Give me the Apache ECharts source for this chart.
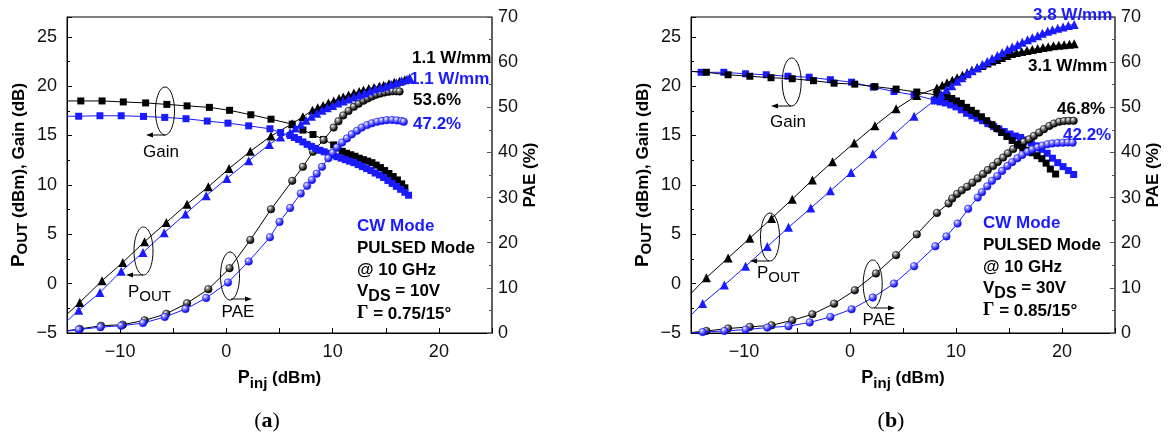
<!DOCTYPE html>
<html><head><meta charset="utf-8">
<script src="https://cdn.jsdelivr.net/npm/echarts@6/dist/echarts.min.js"></script>
<style>html,body{margin:0;padding:0;background:#fff}#c{width:1171px;height:445px}</style>
</head><body><div id="c"></div>
<script>
// ---------- axis ranges / ticks ----------
const xRange = [-15, 25];
const xLabelTicks = [-10, 0, 10, 20];
const leftRange = [-5, 27];
const rightRange = [0, 70];

// ---------- panel (a) : VDS = 10 V ----------
const gainPulsedA = [[-15,18.5],[-13.7,18.5],[-11.7,18.5],[-9.7,18.4],[-7.6,18.3],[-5.6,18.15],[-3.7,18.0],[-1.6,17.85],[0.3,17.55],[2.3,17.1],[4.2,16.65],[6.2,16.15],[7.2,15.55],[8.15,15.1],[9.15,14.6],[10.1,14.05],[10.5,13.75],[10.9,13.4],[11.3,13.2],[11.7,13.05],[12.1,12.9],[12.5,12.7],[12.9,12.55],[13.3,12.4],[13.7,12.25],[14.1,12.0],[14.5,11.75],[14.9,11.45],[15.3,11.15],[15.7,10.85],[16.1,10.5],[16.5,10.1],[16.8,9.7]];
const gainCwA = [[-15,16.95],[-13.9,16.95],[-11.9,17.0],[-9.9,17.0],[-7.8,16.93],[-5.8,16.83],[-3.8,16.7],[-1.8,16.46],[0.15,16.25],[2.1,15.98],[4.1,15.68],[5.1,15.3],[6.0,15.0],[6.4,14.8],[6.8,14.6],[7.2,14.35],[7.6,14.1],[8.0,13.9],[8.4,13.7],[8.8,13.5],[9.2,13.35],[9.6,13.2],[10.0,13.0],[10.4,12.85],[10.8,12.7],[11.2,12.55],[11.6,12.4],[12.0,12.25],[12.4,12.05],[12.8,11.85],[13.2,11.65],[13.6,11.45],[14.0,11.2],[14.4,11.0],[14.8,10.75],[15.2,10.45],[15.6,10.15],[16.0,9.85],[16.4,9.55],[16.8,9.25],[17.15,8.95]];
const poutPulsedA = [[-15,-3.1],[-13.8,-1.9],[-11.7,0.3],[-9.75,2.15],[-7.7,4.25],[-5.65,6.2],[-3.7,8.05],[-1.7,9.8],[0.25,11.65],[2.25,13.4],[4.2,14.95],[6.2,16.2],[7.2,16.9],[8.1,17.55],[8.6,17.8],[9.1,18.05],[9.6,18.3],[10.1,18.5],[10.6,18.75],[11.0,18.9],[11.5,19.1],[12.0,19.3],[12.5,19.45],[12.9,19.6],[13.4,19.75],[13.9,19.85],[14.4,20.0],[14.8,20.1],[15.3,20.25],[15.8,20.4],[16.3,20.5],[16.8,20.65],[17.25,20.8]];
const poutCwA = [[-15,-3.8],[-13.9,-2.7],[-11.9,-0.9],[-9.9,1.25],[-7.85,3.15],[-5.85,5.15],[-3.85,7.05],[-1.9,8.9],[0.05,10.65],[2.1,12.45],[4.05,14.1],[5.1,14.85],[6.0,15.3],[6.5,15.75],[7.0,16.15],[7.5,16.55],[8.0,16.95],[8.5,17.25],[9.0,17.55],[9.5,17.8],[10.0,18.05],[10.5,18.3],[11.0,18.5],[11.5,18.7],[12.0,18.9],[12.5,19.1],[13.0,19.3],[13.5,19.5],[14.0,19.7],[14.5,19.85],[15.0,20.0],[15.5,20.2],[16.0,20.35],[16.5,20.55],[17.0,20.7],[17.25,20.85]];
const paePulsedA = [[-15,0.5],[-13.8,0.9],[-11.8,1.6],[-9.75,1.85],[-7.7,2.8],[-5.65,4.25],[-3.7,6.6],[-1.7,9.7],[0.3,14.35],[2.25,20.6],[4.2,27.4],[6.2,33.7],[7.2,36.8],[8.15,40.15],[9.15,42.75],[10.1,45.5],[10.55,46.9],[11.0,48.2],[11.5,49.2],[12.0,50.1],[12.45,50.8],[12.9,51.45],[13.3,51.95],[13.7,52.4],[14.1,52.8],[14.5,53.05],[14.9,53.3],[15.3,53.45],[15.65,53.55],[16.0,53.55],[16.3,53.5]];
const paeCwA = [[-15,0.4],[-13.9,0.75],[-11.85,1.3],[-9.9,1.6],[-7.85,2.2],[-5.8,3.55],[-3.85,5.3],[-1.9,7.75],[0.15,11.2],[2.1,15.85],[4.1,21.2],[5.0,24.6],[6.0,27.7],[7.0,30.9],[7.6,32.6],[8.05,33.9],[8.5,35.3],[9.0,36.8],[9.6,38.7],[10.0,39.9],[10.4,41.1],[10.9,42.2],[11.35,43.1],[11.8,44.0],[12.3,44.8],[12.75,45.5],[13.25,46.05],[13.7,46.45],[14.2,46.8],[14.65,47.0],[15.1,47.15],[15.6,47.2],[16.05,47.1],[16.5,46.95],[16.7,46.8]];

// ---------- panel (b) : VDS = 30 V ----------
const gainPulsedB = [[-15,21.5],[-13.55,21.4],[-11.5,21.15],[-9.45,21.0],[-7.45,20.85],[-5.45,20.75],[-3.45,20.55],[-1.5,20.3],[0.45,20.2],[2.35,19.95],[4.35,19.7],[6.3,19.4],[8.2,19.1],[8.7,19.05],[9.15,18.95],[9.6,18.75],[10.05,18.5],[10.5,18.25],[11.0,17.85],[11.45,17.55],[11.9,17.25],[12.4,16.9],[12.9,16.5],[13.4,16.1],[13.85,15.7],[14.3,15.3],[14.8,14.9],[15.3,14.5],[15.8,14.1],[16.3,13.75],[16.75,13.5],[17.2,13.25],[17.65,12.95],[18.1,12.65],[18.5,12.2],[18.9,11.6],[19.4,11.1]];
const gainCwB = [[-15,21.5],[-14.05,21.4],[-11.9,21.4],[-9.85,21.25],[-7.9,21.15],[-5.85,21.0],[-3.85,20.9],[-1.85,20.65],[0.15,20.4],[2.2,19.9],[4.15,19.45],[6.05,19.1],[7.95,18.6],[8.5,18.4],[9.0,18.3],[9.5,18.1],[10.0,17.9],[10.5,17.6],[11.0,17.25],[11.5,17.0],[12.0,16.75],[12.5,16.5],[13.0,16.2],[13.55,15.9],[14.05,15.65],[14.55,15.4],[15.1,15.15],[15.6,14.95],[16.1,14.8],[16.6,14.55],[17.1,14.25],[17.6,13.95],[18.1,13.6],[18.6,13.2],[19.1,12.7],[19.6,12.25],[20.1,11.85],[20.6,11.45],[21.1,11.05]];
const poutPulsedB = [[-15,-1.0],[-13.55,0.6],[-11.5,2.6],[-9.45,4.6],[-7.4,6.6],[-5.45,8.55],[-3.55,10.5],[-1.65,12.35],[0.4,14.25],[2.35,16.0],[4.35,17.7],[6.3,19.05],[8.2,19.8],[8.7,20.1],[9.15,20.35],[9.65,20.6],[10.1,20.85],[10.6,21.1],[11.05,21.35],[11.5,21.6],[12.0,21.85],[12.45,22.1],[12.95,22.35],[13.4,22.55],[13.85,22.7],[14.3,22.9],[14.8,23.1],[15.25,23.3],[15.7,23.4],[16.2,23.5],[16.7,23.6],[17.2,23.7],[17.7,23.8],[18.2,23.9],[18.7,24.0],[19.2,24.1],[19.7,24.15],[20.2,24.2],[20.7,24.25],[21.15,24.3]];
const poutCwB = [[-15,-3.2],[-13.9,-2.0],[-11.85,-0.15],[-9.85,1.75],[-7.8,3.75],[-5.8,5.7],[-3.7,7.65],[-1.85,9.4],[0.1,11.25],[2.15,13.15],[4.1,15.05],[6.05,16.95],[8.05,18.6],[8.6,19.15],[9.1,19.65],[9.6,20.05],[10.1,20.5],[10.55,20.85],[11.05,21.25],[11.5,21.55],[12.0,21.85],[12.5,22.2],[12.95,22.5],[13.4,22.8],[13.9,23.1],[14.35,23.4],[14.85,23.7],[15.3,23.95],[15.8,24.2],[16.25,24.45],[16.75,24.7],[17.2,24.9],[17.7,25.1],[18.15,25.35],[18.65,25.55],[19.1,25.7],[19.6,25.85],[20.1,26.0],[20.6,26.15],[21.15,26.25]];
const paePulsedB = [[-15,0.1],[-13.55,0.45],[-11.5,1.0],[-9.45,1.35],[-7.4,1.7],[-5.45,2.8],[-3.55,4.15],[-1.5,6.5],[0.45,9.45],[2.45,13.2],[4.35,17.25],[6.3,21.85],[8.2,26.6],[9.3,28.7],[9.65,29.8],[10.1,30.8],[10.55,31.6],[11.05,32.4],[11.55,33.3],[12.05,34.25],[12.55,35.2],[13.0,36.1],[13.5,37.0],[13.95,37.9],[14.45,38.85],[14.9,39.8],[15.4,40.75],[15.95,41.65],[16.4,42.3],[16.9,42.9],[17.35,43.65],[17.85,44.4],[18.3,45.15],[18.8,45.85],[19.25,46.4],[19.75,46.8],[20.2,46.95],[20.65,47.0],[21.1,47.0]];
const paeCwB = [[-15,0.0],[-13.9,0.2],[-11.85,0.45],[-9.85,0.75],[-7.8,1.2],[-5.8,1.5],[-3.8,2.35],[-1.85,3.55],[0.15,5.25],[2.15,7.85],[4.15,10.95],[6.05,14.8],[8.05,19.2],[9.1,21.4],[10.15,24.25],[11.15,27.5],[12.05,30.0],[12.45,31.2],[12.95,32.5],[13.4,33.7],[13.9,34.75],[14.35,35.9],[14.85,37.0],[15.3,37.85],[15.8,38.7],[16.25,39.45],[16.75,40.15],[17.2,40.65],[17.7,41.1],[18.15,41.5],[18.65,41.8],[19.1,42.0],[19.6,42.1],[20.1,42.15],[20.55,42.2],[21.0,42.15]];

// ---------- styling ----------
const FAM = "'Liberation Sans', Arial, sans-serif";
const BLUE = '#1a1aff';
const BLACK = '#000000';
const sphereBlack = {type:'radial', x:0.35, y:0.3, r:0.75, colorStops:[{offset:0,color:'#ffffff'},{offset:0.3,color:'#8a8a8a'},{offset:0.75,color:'#111'},{offset:1,color:'#000'}]};
const sphereBlue = {type:'radial', x:0.35, y:0.3, r:0.75, colorStops:[{offset:0,color:'#ffffff'},{offset:0.3,color:'#8c8cff'},{offset:0.75,color:'#1a1aee'},{offset:1,color:'#0000b0'}]};

function minus(v){ return v < 0 ? '\u2212' + Math.abs(v) : String(v); }

function prep(arr){
  return arr.map((p,i) => (i === 0 && p[0] === xRange[0]) ? {value:p, symbol:'none'} : p);
}
function ser(data, xi, yi, symbol, size, color, fill, z){
  return {type:'line', xAxisIndex:xi, yAxisIndex:yi, data:prep(data), symbol:symbol, symbolSize:size,
    showSymbol:true, showAllSymbol:true, animation:false, z:z, silent:true,
    lineStyle:{color:color, width:1}, itemStyle:{color:fill, borderColor:color, borderWidth:symbol==='circle'?0.6:0}};
}

const xNameRich = {
  b:{fontSize:18, fontWeight:'bold', fontFamily:FAM, color:'#000', verticalAlign:'bottom', padding:[0,0,4,0]},
  s:{fontSize:15, fontWeight:'bold', fontFamily:FAM, color:'#000', verticalAlign:'bottom'},
  m:{fontSize:17, fontWeight:'bold', fontFamily:FAM, color:'#000', verticalAlign:'bottom', padding:[0,0,4,0]}
};
const yNameRich = {
  b:{fontSize:19, fontWeight:'bold', fontFamily:FAM, color:'#000', verticalAlign:'bottom', padding:[0,0,2,0]},
  s:{fontSize:15, fontWeight:'bold', fontFamily:FAM, color:'#000', verticalAlign:'bottom'},
  m:{fontSize:17, fontWeight:'bold', fontFamily:FAM, color:'#000', verticalAlign:'bottom', padding:[0,0,2,0]}
};

function xAx(gi){
  return {type:'value', gridIndex:gi, min:xRange[0], max:xRange[1], interval:5,
    axisLine:{show:true, onZero:false, lineStyle:{color:'#000', width:1}},
    axisTick:{show:true, inside:true, length:5, lineStyle:{color:'#000'}},
    axisLabel:{fontSize:18, fontFamily:FAM, color:'#111', margin:10,
      formatter:v => xLabelTicks.includes(v) ? minus(v) : ''},
    splitLine:{show:false},
    name:'{b|P}{s|inj}{m| (dBm)}', nameLocation:'middle', nameGap:36,
    nameTextStyle:{rich:xNameRich}};
}
function yLeft(gi){
  return {type:'value', gridIndex:gi, position:'left', min:leftRange[0], max:leftRange[1], interval:5,
    axisLine:{show:true, onZero:false, lineStyle:{color:'#000', width:1}},
    axisTick:{show:true, inside:true, length:5, lineStyle:{color:'#000'}},
    minorTick:{show:true, splitNumber:2, length:3, lineStyle:{color:'#000'}},
    axisLabel:{fontSize:18, fontFamily:FAM, color:'#111', margin:10,
      formatter:v => (v % 5 === 0) ? minus(v) : ''},
    splitLine:{show:false},
    name:'{b|P}{s|OUT}{m| (dBm), Gain (dB)}', nameLocation:'middle', nameRotate:90, nameGap:37,
    nameTextStyle:{rich:yNameRich}};
}
function yRight(gi){
  return {type:'value', gridIndex:gi, position:'right', min:rightRange[0], max:rightRange[1], interval:10,
    axisLine:{show:true, onZero:false, lineStyle:{color:'#555', width:1.5}},
    axisTick:{show:true, inside:true, length:5, lineStyle:{color:'#555'}},
    minorTick:{show:true, splitNumber:2, length:3, lineStyle:{color:'#555'}},
    axisLabel:{fontSize:18, fontFamily:FAM, color:'#111', margin:6},
    splitLine:{show:false},
    name:'PAE (%)', nameLocation:'middle', nameRotate:90, nameGap:30,
    nameTextStyle:{fontSize:17, fontWeight:'bold', fontFamily:FAM, color:'#000'}};
}

// ---------- annotations (pixel placed) ----------
function txt(x, y, text, opts){
  return {type:'text', x:x, y:y, silent:true, z:50,
    style:Object.assign({text:text, fontSize:17, fontFamily:FAM, fill:'#000', align:'left', verticalAlign:'middle'}, opts||{})};
}
function ell(cx, cy){
  return {type:'ellipse', shape:{cx:cx, cy:cy, rx:9.5, ry:24}, silent:true, z:50,
    style:{fill:'none', stroke:'#000', lineWidth:1}};
}
function arrow(x1, y, x2){
  const d = x2 > x1 ? 1 : -1;
  return [
    {type:'line', shape:{x1:x1, y1:y, x2:x2 - d*5, y2:y}, silent:true, z:50, style:{stroke:'#000', lineWidth:1}},
    {type:'polygon', shape:{points:[[x2,y],[x2-d*7,y-2.5],[x2-d*7,y+2.5]]}, silent:true, z:50, style:{fill:'#000'}}
  ];
}
const subRich = {
  p:{fontSize:17, fontFamily:FAM, fill:'#000', verticalAlign:'bottom', padding:[0,0,4,0]},
  q:{fontSize:15, fontFamily:FAM, fill:'#000', verticalAlign:'bottom'}
};
const boldRich = {
  b:{fontSize:17, fontWeight:'bold', fontFamily:FAM, fill:'#000', verticalAlign:'bottom', padding:[0,0,5,0]},
  s:{fontSize:16, fontWeight:'bold', fontFamily:FAM, fill:'#000', verticalAlign:'bottom'},
  g:{fontSize:18, fontWeight:'bold', fontFamily:"'Liberation Serif', 'Times New Roman', serif", fill:'#000', verticalAlign:'bottom', padding:[0,0,5,0]}
};
function infoBlock(x, vds, gamma){
  return [
    txt(x, 226, 'CW Mode', {fontWeight:'bold', fill:BLUE}),
    txt(x, 248, 'PULSED Mode', {fontWeight:'bold'}),
    txt(x, 270, '@ 10 GHz', {fontWeight:'bold'}),
    txt(x, 294, '{b|V}{s|DS}{b| = ' + vds + '}', {rich:boldRich}),
    txt(x, 316, '{g|\u0393}{b| = ' + gamma + '}', {rich:boldRich})
  ];
}

const graphics = [].concat(
  // panel (a)
  [ell(165,111)], arrow(165,135,146), [txt(161,152,'Gain',{align:'center'})],
  [ell(143.5,251)], arrow(143,275,126), [txt(128,294,'{p|P}{q|OUT}',{rich:subRich})],
  [ell(230,276)], arrow(231,299,252), [txt(238,312,'PAE',{align:'center'})],
  [txt(412,58,'1.1 W/mm',{fontWeight:'bold'}), txt(410,79,'1.1 W/mm',{fontWeight:'bold', fill:BLUE}),
   txt(413,100,'53.6%',{fontWeight:'bold'}), txt(413,124,'47.2%',{fontWeight:'bold', fill:BLUE})],
  infoBlock(357,'10V','0.75/15\u00b0'),
  // panel (b)
  [ell(791.7,82)], arrow(791,106,771), [txt(788,122,'Gain',{align:'center'})],
  [ell(770,237)], arrow(769,261,750), [txt(757,275,'{p|P}{q|OUT}',{rich:subRich})],
  [ell(872.7,284)], arrow(874,308,895), [txt(879,320,'PAE',{align:'center'})],
  [txt(1033,15,'3.8 W/mm',{fontWeight:'bold', fill:BLUE}), txt(1028,66,'3.1 W/mm',{fontWeight:'bold'}),
   txt(1057,109,'46.8%',{fontWeight:'bold'}), txt(1063,135,'42.2%',{fontWeight:'bold', fill:BLUE})],
  infoBlock(983,'30V','0.85/15\u00b0').map(e => { e.y -= 3; return e; }),
  // panel letters
  [txt(267,421,'{p|(}{a|a}{p|)}',{align:'center', rich:{
      p:{fontSize:22, fontFamily:"'Liberation Serif', serif", fill:'#000'},
      a:{fontSize:22, fontWeight:'bold', fontFamily:"'Liberation Serif', serif", fill:'#000'}}}),
   txt(891,421,'{p|(}{a|b}{p|)}',{align:'center', rich:{
      p:{fontSize:22, fontFamily:"'Liberation Serif', serif", fill:'#000'},
      a:{fontSize:22, fontWeight:'bold', fontFamily:"'Liberation Serif', serif", fill:'#000'}}})]
);

const option = {
  backgroundColor:'#fff',
  animation:false,
  grid:[
    {left:67, top:17, width:425, height:316, show:true, borderColor:'#000', borderWidth:1, backgroundColor:'transparent'},
    {left:691, top:17, width:424, height:316, show:true, borderColor:'#000', borderWidth:1, backgroundColor:'transparent'}
  ],
  xAxis:[xAx(0), xAx(1)],
  yAxis:[yLeft(0), yRight(0), yLeft(1), yRight(1)],
  series:[
    // (a)
    ser(gainPulsedA,0,0,'rect',7,BLACK,BLACK,3),
    ser(gainCwA,0,0,'rect',7,BLUE,BLUE,4),
    ser(poutPulsedA,0,0,'triangle',9,BLACK,BLACK,3),
    ser(poutCwA,0,0,'triangle',9,BLUE,BLUE,4),
    ser(paePulsedA,0,1,'circle',7.5,BLACK,sphereBlack,3),
    ser(paeCwA,0,1,'circle',7.5,BLUE,sphereBlue,4),
    // (b)
    ser(gainCwB,1,2,'rect',7,BLUE,BLUE,3),
    ser(gainPulsedB,1,2,'rect',7,BLACK,BLACK,4),
    ser(poutPulsedB,1,2,'triangle',9,BLACK,BLACK,3),
    ser(poutCwB,1,2,'triangle',9,BLUE,BLUE,4),
    ser(paePulsedB,1,3,'circle',7.5,BLACK,sphereBlack,3),
    ser(paeCwB,1,3,'circle',7.5,BLUE,sphereBlue,4)
  ],
  graphic:graphics
};

const chart = echarts.init(document.getElementById('c'));
chart.setOption(option);
</script></body></html>
